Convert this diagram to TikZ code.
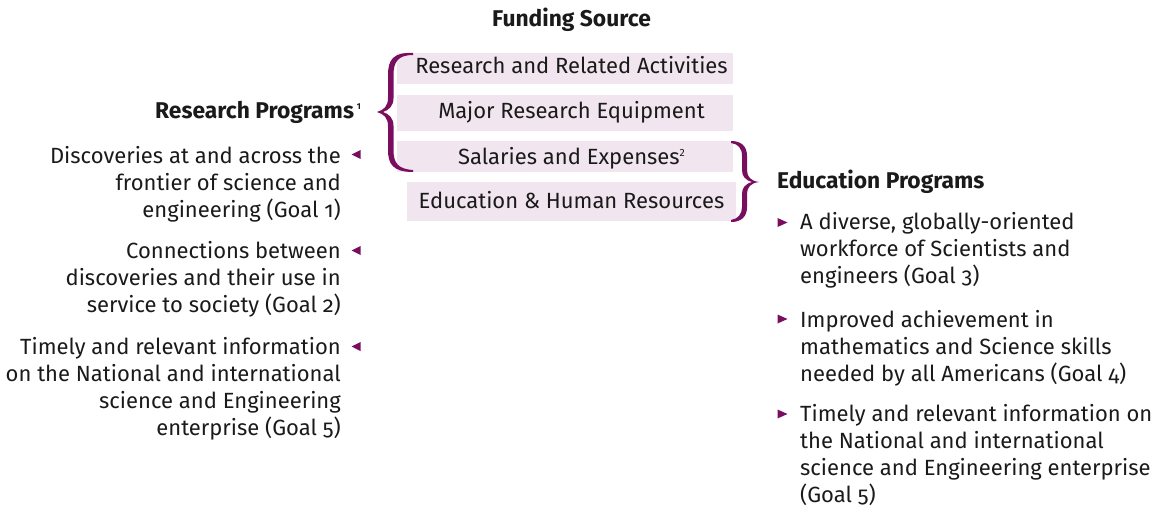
\documentclass[tikz,border=0pt]{standalone}
\usepackage{fontspec}
\setmainfont{Fira Sans}[Numbers=OldStyle]
\definecolor{plum}{HTML}{7A0E5E}
\definecolor{blush}{HTML}{F1E6EF}
\definecolor{ink}{HTML}{1A1A1A}
% footnote mark: raise, size, digit
\newcommand{\footmark}[3]{\raisebox{#1}{\fontsize{#2}{#2}\selectfont\addfontfeatures{Numbers=Lining}#3}}
\begin{document}
\begin{tikzpicture}[x=1pt,y=-1pt,
  txt/.style={inner sep=0pt, text=ink, font=\fontsize{22}{27}\selectfont},
  head/.style={txt, font=\fontsize{22.8}{27}\selectfont\bfseries},
  fundbox/.style={fill=blush, draw=none, inner sep=0pt},
  lefttxt/.style={txt, align=right, anchor=base east},
  righttxt/.style={txt, align=left, anchor=base west},
  brace/.style={fill=plum, draw=none},
  bullet/.style={fill=plum, draw=none}]
\useasboundingbox (0,0) rectangle (1154,508);

% funding sources
\node[head, anchor=base] (fund) at (571.5,27) {Funding Source};

\node[fundbox, minimum width=336, minimum height=31] (b1) at (565,68.5) {};
\node[fundbox, minimum width=336, minimum height=36] (b2) at (565,113) {};
\node[fundbox, minimum width=336, minimum height=30] (b3) at (565,156.5) {};
\node[fundbox, minimum width=329, minimum height=39] (b4) at (571.5,201.5) {};

\node[txt, anchor=base] (t1) at (571.5,73.3) {Research and Related Activities};
\node[txt, anchor=base] (t2) at (571.5,119) {Major Research Equipment};
\node[txt, anchor=base] (t3) at (571.5,164.3) {Salaries and Expenses\footmark{8pt}{10.5}{2}};
\node[txt, anchor=base] (t4) at (571.5,208.5) {Education \& Human Resources};

% left brace: research accounts
\path[brace] (413,53) .. controls (393,52) and (388,60) .. (388,75) -- (388,98)
  .. controls (388,106) and (384,110) .. (377,112)
  .. controls (384,114) and (388,118) .. (388,126) -- (388,150)
  .. controls (388,164) and (393,172) .. (413,172)
  -- (413,170) .. controls (398,169) and (393.5,163) .. (393.5,150) -- (393.5,126)
  .. controls (393.5,118) and (389,114) .. (383,112)
  .. controls (389,110) and (393.5,106) .. (393.5,98) -- (393.5,75)
  .. controls (393.5,62) and (398,55) .. (413,55) -- cycle;

% right brace: education accounts
\path[brace] (731,141) .. controls (741,141) and (747,146) .. (747,156) -- (747,170)
  .. controls (747,177) and (751,181) .. (759,182)
  .. controls (751,183) and (747,187) .. (747,194) -- (747,207)
  .. controls (747,217) and (741,222) .. (731,222)
  -- (731,220) .. controls (738,219) and (742,214) .. (742,207) -- (742,194)
  .. controls (742,188) and (745,184) .. (752,182)
  .. controls (745,180) and (742,176) .. (742,170) -- (742,156)
  .. controls (742,148) and (738,144) .. (731,143) -- cycle;

% research programs (multi-line nodes sit on their last baseline)
\node[head, anchor=base west] (rp) at (155,119) {Research Programs\hspace{3pt}\footmark{9pt}{8.5}{1}};
\node[lefttxt] (g1) at (341,217) {Discoveries at and across the\\frontier of science and\\engineering (Goal 1)};
\node[lefttxt] (g2) at (341,312) {Connections between\\discoveries and their use in\\service to society (Goal 2)};
\node[lefttxt] (g5l) at (341,435) {Timely and relevant information\\on the National and international\\science and Engineering\\enterprise (Goal 5)};

\foreach \yy in {154.5,250.5,346.5}
  \path[bullet] (351.5,\yy) -- (360.5,\yy-4.5) -- (360.5,\yy+4.5) -- cycle;

% education programs
\node[head, anchor=base west] (ep) at (777,189) {Education Programs};
\node[righttxt] (g3) at (800,283) {A diverse, globally-oriented\\workforce of Scientists and\\engineers (Goal 3)};
\node[righttxt] (g4) at (800,381) {Improved achievement in\\mathematics and Science skills\\needed by all Americans (Goal 4)};
\node[righttxt] (g5r) at (800,502) {Timely and relevant information on\\the National and international\\science and Engineering enterprise\\(Goal 5)};

\foreach \yy in {222.5,319,414}
  \path[bullet] (787.5,\yy) -- (777.5,\yy-4.5) -- (777.5,\yy+4.5) -- cycle;
\end{tikzpicture}
\end{document}
